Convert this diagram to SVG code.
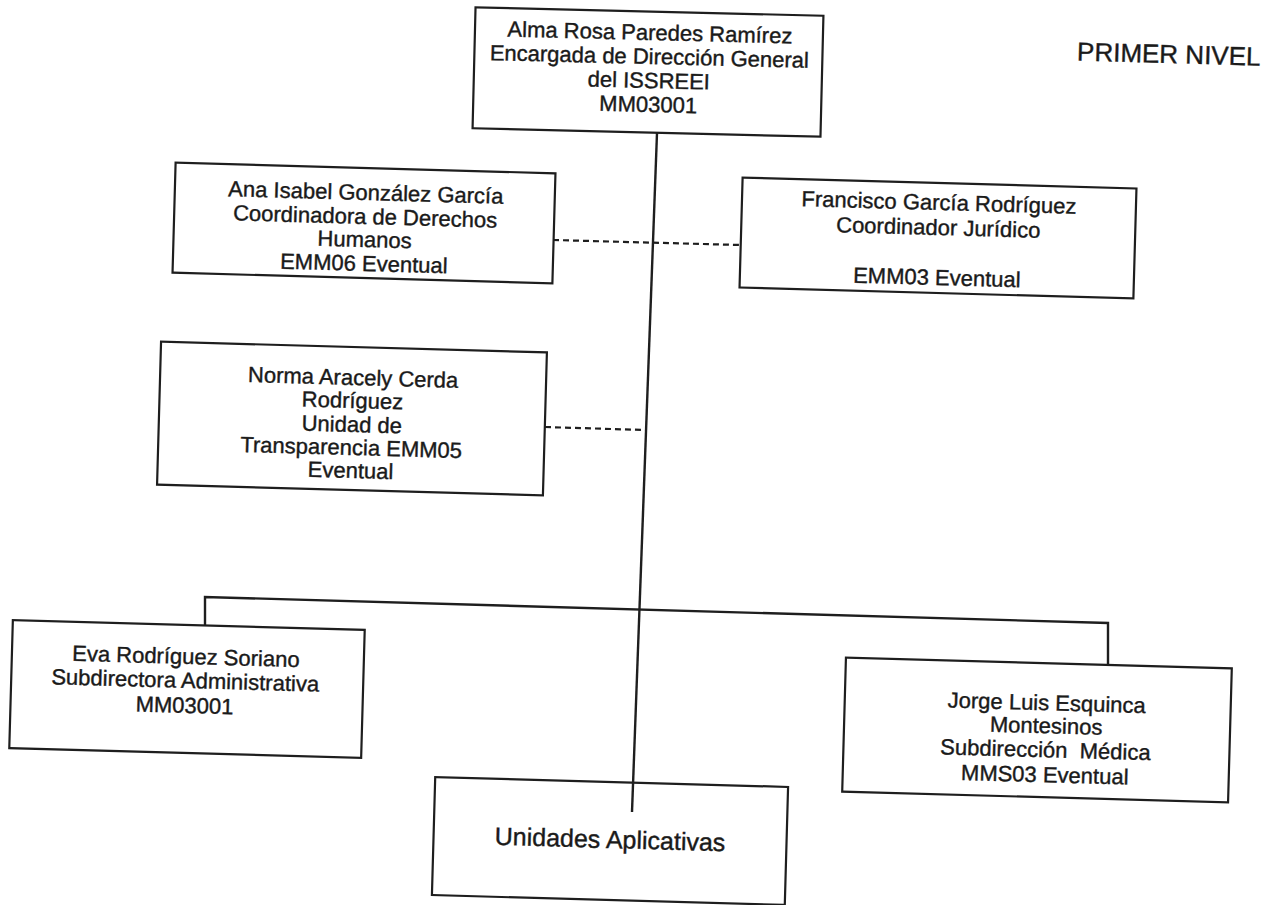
<svg xmlns="http://www.w3.org/2000/svg" width="1266" height="905" viewBox="0 0 1266 905">
<style>
.box{fill:#fff;stroke:#1e1e1e;stroke-width:2.2}
.t{font-family:"Liberation Sans",Arial,sans-serif;font-size:22px;fill:#1a1a1a;stroke:#1a1a1a;stroke-width:0.4;text-anchor:middle}
.big{font-size:25px}
.ln{fill:none;stroke:#1e1e1e;stroke-width:2.4}
.dash{fill:none;stroke:#1e1e1e;stroke-width:2.2;stroke-dasharray:6 4}
</style>
<rect width="1266" height="905" fill="#fff"/>
<g id="connectors">
<polyline class="ln" points="205,625 205,597 1108,623 1108,665"/>
<line class="dash" x1="553" y1="240" x2="740" y2="245"/>
<line class="dash" x1="545" y1="427" x2="645" y2="430"/>
</g>
<g id="n-top" transform="rotate(1.4 648 72)">
<rect class="box" x="474" y="11.5" width="348" height="121"/>
<text class="t" x="649" y="40">Alma Rosa Paredes Ramírez</text>
<text class="t" x="649" y="64">Encargada de Dirección General</text>
<text class="t" x="649" y="88">del ISSREEI</text>
<text class="t" x="649" y="112">MM03001</text>
</g>
<g id="n-ana" transform="rotate(1.6 364 223)">
<rect class="box" x="174" y="168" width="380" height="110"/>
<text class="t" x="365" y="200">Ana Isabel González García</text>
<text class="t" x="365" y="224">Coordinadora de Derechos</text>
<text class="t" x="365" y="247">Humanos</text>
<text class="t" x="365" y="271">EMM06 Eventual</text>
</g>
<g id="n-francisco" transform="rotate(1.6 938 238)">
<rect class="box" x="741" y="183" width="394" height="110"/>
<text class="t" x="938" y="210">Francisco García Rodríguez</text>
<text class="t" x="938" y="235">Coordinador Jurídico</text>
<text class="t" x="938" y="285">EMM03 Eventual</text>
</g>
<g id="n-norma" transform="rotate(1.6 352 418)">
<rect class="box" x="159" y="347" width="386" height="143"/>
<text class="t" x="352" y="385">Norma Aracely Cerda</text>
<text class="t" x="352" y="408">Rodríguez</text>
<text class="t" x="352" y="432">Unidad de</text>
<text class="t" x="352" y="455">Transparencia EMM05</text>
<text class="t" x="352" y="478">Eventual</text>
</g>
<g id="n-eva" transform="rotate(1.6 187 689)">
<rect class="box" x="11" y="625" width="352" height="128"/>
<text class="t" x="185" y="664">Eva Rodríguez Soriano</text>
<text class="t" x="185" y="688">Subdirectora Administrativa</text>
<text class="t" x="185" y="713">MM03001</text>
</g>
<g id="n-jorge" transform="rotate(1.6 1037 730)">
<rect class="box" x="844" y="663" width="386" height="134"/>
<text class="t" x="1046" y="710">Jorge Luis Esquinca</text>
<text class="t" x="1046" y="733">Montesinos</text>
<text class="t" x="1046" y="757" xml:space="preserve">Subdirección  Médica</text>
<text class="t" x="1046" y="782">MMS03 Eventual</text>
</g>
<g id="n-unidades" transform="rotate(1.6 610 841)">
<rect class="box" x="433.5" y="782" width="353" height="118"/>
<text class="t big" x="610" y="848">Unidades Aplicativas</text>
</g>
<g id="main-line">
<line class="ln" x1="657" y1="133" x2="632" y2="812"/>
</g>
<text x="1077" y="63" transform="rotate(1.6 1168 55)" style="font-family:'Liberation Sans',Arial,sans-serif;font-size:26px;fill:#1a1a1a;stroke:#1a1a1a;stroke-width:0.4">PRIMER NIVEL</text>
</svg>
